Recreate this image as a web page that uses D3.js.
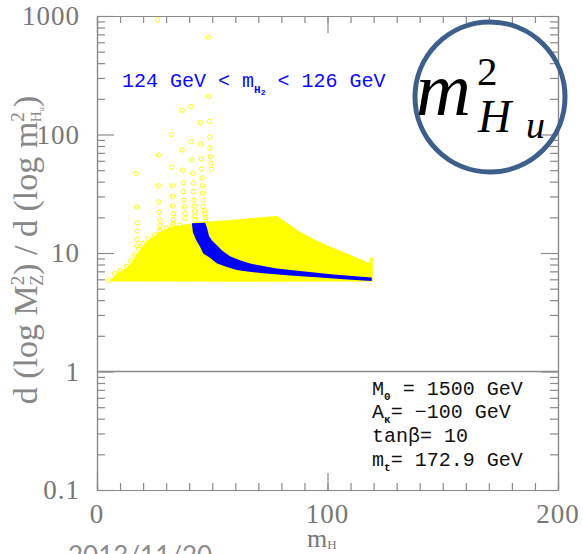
<!DOCTYPE html>
<html>
<head>
<meta charset="utf-8">
<script src="https://cdn.jsdelivr.net/npm/d3@7"></script>
<style>
  body { margin: 0; background: #fff; overflow: hidden; }
  svg { display: block; }
</style>
</head>
<body>
<svg id="chart"></svg>
<script>
const width = 583;
const height = 554;
const svg = d3.select("svg#chart").attr("width", width).attr("height", height);

const margin = { top: 16, right: 25, bottom: 64, left: 97 };

// axis labels
const xTickValues = [0, 100, 200];
const xTickLabels = ["0", "100", "200"];
const yTickValues = [0.1, 1, 10, 100, 1000];
const yTickLabels = ["0.1", "1", "10", "100", "1000"];

// yellow scan region (m_H, sensitivity): upper edge, then lower edge back
const yellowTop = [[6, 5.9], [8.5, 6.7], [11, 7.1], [13.6, 7.7], [15.5, 8.6], [17.2, 9.6], [19, 10.8],
  [20.8, 12], [23, 13.2], [25.9, 14.2], [28, 15.2], [30.9, 16.2], [33.5, 16.8], [36.7, 17.2],
  [41, 17.8], [44.7, 18.4], [49, 18.4], [60, 19.2], [70, 19.9], [78, 20.5], [82, 18.2],
  [88, 15.1], [95, 12.8], [102.5, 11], [110, 9.6], [117, 8.4], [118.4, 8.2], [118.6, 9.2], [119.6, 9.2]];
const yellowBottom = [[119.6, 5.75], [60, 5.72], [6, 5.75]];

// isolated points rising above the region
const spike17 = [[16.9, 47], [17.2, 24.5], [17.5, 18], [17.5, 15.3], [17.4, 13], [17.3, 11.5]];
const spike26 = [[26.2, 925], [26.6, 67], [26.6, 37], [26.8, 27], [27, 22], [27.3, 19], [27.3, 17], [27.2, 15.5]];
const spike32 = [[32.2, 100], [32.4, 53], [32.7, 37], [32.8, 30], [32.8, 25], [33.1, 21.5], [33.1, 19.2], [33, 17.5]];
const spike37 = [[36.9, 160], [36.9, 74], [37.2, 50], [37.4, 39], [37.4, 33], [37.7, 28], [37.9, 24.5], [38.2, 21.6], [38.2, 19.6]];
const spike41 = [[40.8, 172], [40.9, 87], [41.2, 61], [41.5, 47], [41.8, 39], [41.8, 33], [42.1, 28], [42.2, 25], [42.4, 22.5], [42.5, 20.5], [42.5, 19]];
const spike45 = [[44.8, 126], [45, 83], [45.3, 62], [45.4, 51], [45.6, 43], [45.8, 37], [45.8, 32], [46.1, 28], [46.1, 24.6], [46.5, 22.8], [46.9, 21.3], [47, 20], [47.1, 19]];
const spike48 = [[48.3, 661], [48.4, 210], [48.7, 129], [48.9, 95], [49, 77], [49.2, 65], [49.5, 57], [49.7, 51]];

// blue band 124 < mH2 < 126
const bandUpper = [[41.2, 17.8], [46.9, 18.0], [47.7, 16.3], [48.6, 13.9], [50, 12.7], [51.9, 11.7],
  [54.5, 10.4], [57.7, 9.4], [62, 8.7], [66.4, 8.15], [72, 7.75], [78, 7.4], [88.1, 7.05], [102.5, 6.6], [119.2, 6.2]];
const bandLower = [[41.2, 17.6], [41.6, 15.0], [43.0, 12.9], [44.7, 11.3], [46.1, 9.9], [49.0, 9.1],
  [51.9, 8.2], [56, 7.65], [60.6, 7.2], [66, 6.95], [72.1, 6.75], [83.7, 6.46], [95.3, 6.24], [107, 6.0], [119.2, 5.8]];

const x = d3.scaleLinear().domain([0, 200]).range([margin.left, width - margin.right]);
const y = d3.scaleLog().domain([0.1, 1000]).range([height - margin.bottom, margin.top]);

const line = d3.line().x(d => x(d[0])).y(d => y(d[1]));

// yellow region
svg.append("path")
  .attr("d", line(yellowTop.concat(yellowBottom)) + "Z")
  .attr("fill", "#ffff00");

// texture along the left edge
svg.append("g").selectAll("circle")
  .data(yellowTop.filter(d => d[0] < 41))
  .enter().append("circle")
    .attr("cx", d => x(d[0]) - 2)
    .attr("cy", d => y(d[1]))
    .attr("r", 2.3)
    .attr("fill", "none")
    .attr("stroke", "#ffff00")
    .attr("stroke-width", 1);

const spikes = [].concat(spike17, spike26, spike32, spike37, spike41, spike45, spike48);
svg.append("g").selectAll("circle")
  .data(spikes)
  .enter().append("circle")
    .attr("cx", d => x(d[0]))
    .attr("cy", d => y(d[1]))
    .attr("r", 2.2)
    .attr("fill", "none")
    .attr("stroke", "#ffff00")
    .attr("stroke-width", 1);

// blue band
svg.append("path")
  .attr("d", line(bandUpper.concat(bandLower.slice().reverse())) + "Z")
  .attr("fill", "#0000ff");

// axes, ticks pointing inwards
const axisColor = "#8a8a8a";
const xMinor = d3.range(0, 201, 10);
const yMinor = y.ticks().filter(v => yTickValues.indexOf(v) < 0);

function drawAxis(axis, tx, ty) {
  const g = svg.append("g")
    .attr("transform", "translate(" + tx + "," + ty + ")")
    .call(axis.tickFormat("").tickSizeOuter(0));
  g.selectAll("path, line").attr("stroke", axisColor).attr("stroke-width", 1.2);
}

const bottom = height - margin.bottom;
const right = width - margin.right;
drawAxis(d3.axisBottom(x).tickValues(xMinor).tickSize(-7), 0, bottom);
drawAxis(d3.axisBottom(x).tickValues(xTickValues).tickSize(-17), 0, bottom);
drawAxis(d3.axisTop(x).tickValues(xMinor).tickSize(-7), 0, margin.top);
drawAxis(d3.axisTop(x).tickValues(xTickValues).tickSize(-17), 0, margin.top);
drawAxis(d3.axisLeft(y).tickValues(yMinor).tickSize(-8), margin.left, 0);
drawAxis(d3.axisLeft(y).tickValues(yTickValues).tickSize(-17), margin.left, 0);
drawAxis(d3.axisRight(y).tickValues(yMinor).tickSize(-8), right, 0);
drawAxis(d3.axisRight(y).tickValues(yTickValues).tickSize(-17), right, 0);

// reference line at 1
svg.append("line")
  .attr("x1", x(0)).attr("x2", x(200))
  .attr("y1", y(1)).attr("y2", y(1))
  .attr("stroke", axisColor).attr("stroke-width", 1.5);

// tick labels
const labelFont = "'Liberation Serif', 'DejaVu Serif', serif";
svg.append("g").selectAll("text")
  .data(yTickValues)
  .enter().append("text")
    .attr("x", margin.left - 17)
    .attr("y", d => y(d) + 9)
    .attr("text-anchor", "end")
    .attr("font-family", labelFont)
    .attr("font-size", 27)
    .attr("letter-spacing", 1)
    .attr("fill", "#777")
    .text((d, i) => yTickLabels[i]);

svg.append("g").selectAll("text")
  .data(xTickValues)
  .enter().append("text")
    .attr("x", d => x(d))
    .attr("y", 523)
    .attr("text-anchor", "middle")
    .attr("font-family", labelFont)
    .attr("font-size", 27)
    .attr("letter-spacing", 1)
    .attr("fill", "#777")
    .text((d, i) => xTickLabels[i]);

// x title
const xt = svg.append("text")
  .attr("x", 307).attr("y", 547)
  .attr("font-family", labelFont).attr("font-size", 26).attr("fill", "#777");
xt.append("tspan").text("m");
xt.append("tspan").attr("font-size", 13).attr("dy", 2).text("H");

// y title
const yt = svg.append("text")
  .attr("transform", "translate(37,250) rotate(-90)")
  .attr("text-anchor", "middle")
  .attr("font-family", labelFont).attr("font-size", 34).attr("fill", "#888");
yt.append("tspan").text("d (log M");
yt.append("tspan").attr("font-size", 19).attr("dy", -13).text("2");
yt.append("tspan").attr("font-size", 18).attr("dx", -10).attr("dy", 19).text("Z");
yt.append("tspan").attr("dy", -6).text(") / d (log m");
yt.append("tspan").attr("font-size", 19).attr("dy", -13).text("2");
yt.append("tspan").attr("font-size", 15).attr("dx", -10).attr("dy", 17).text("H");
yt.append("tspan").attr("font-size", 9).attr("dy", 3).text("u");
yt.append("tspan").attr("dy", -7).text(")");

// blue annotation
const mono = "'Liberation Mono', 'DejaVu Sans Mono', monospace";
const bt = svg.append("text")
  .attr("x", 122).attr("y", 87)
  .attr("font-family", mono).attr("font-size", 20).attr("fill", "#0a0aff");
bt.append("tspan").text("124 GeV < m");
bt.append("tspan").attr("font-size", 11).attr("font-weight", "bold").attr("dy", 6).text("H");
bt.append("tspan").attr("font-size", 8).attr("font-weight", "bold").attr("dy", 2).text("2");
bt.append("tspan").attr("dy", -8).text(" < 126 GeV");

// parameter block
const params = [
  { main: "M", sub: "0", rest: " = 1500 GeV" },
  { main: "A", sub: "κ", rest: "= \u2212100 GeV" },
  { main: "tanβ", sub: "", rest: "= 10" },
  { main: "m", sub: "t", rest: "= 172.9 GeV" }
];
const pBase = [395, 418, 442, 466];
params.forEach((p, i) => {
  const t = svg.append("text")
    .attr("x", 372).attr("y", pBase[i])
    .attr("font-family", mono).attr("font-size", 20).attr("fill", "#111");
  t.append("tspan").text(p.main);
  if (p.sub) {
    t.append("tspan").attr("font-size", 11).attr("font-weight", "bold").attr("dy", 5).text(p.sub);
    t.append("tspan").attr("dy", -5).text(p.rest);
  } else {
    t.append("tspan").text(p.rest);
  }
});

// circled m^2_Hu badge
svg.append("circle")
  .attr("cx", 490).attr("cy", 97).attr("r", 75)
  .attr("fill", "none").attr("stroke", "#3e5f8b").attr("stroke-width", 5);
const math = "'Liberation Serif', 'DejaVu Serif', serif";
svg.append("text").attr("x", 416).attr("y", 115)
  .attr("font-family", math).attr("font-style", "italic").attr("font-size", 76).attr("fill", "#000")
  .text("m");
svg.append("text").attr("x", 477).attr("y", 85)
  .attr("font-family", math).attr("font-size", 41).attr("fill", "#000")
  .text("2");
svg.append("text").attr("x", 478).attr("y", 132)
  .attr("font-family", math).attr("font-style", "italic").attr("font-size", 46).attr("fill", "#000")
  .text("H");
svg.append("text").attr("x", 526).attr("y", 138)
  .attr("font-family", math).attr("font-style", "italic").attr("font-size", 38).attr("fill", "#000")
  .text("u");

// date footer
svg.append("text")
  .attr("x", 68).attr("y", 565)
  .attr("font-family", "Lato, 'Open Sans', sans-serif").attr("font-size", 26).attr("fill", "#8c8c8c")
  .text("2013/11/20");
</script>
</body>
</html>
